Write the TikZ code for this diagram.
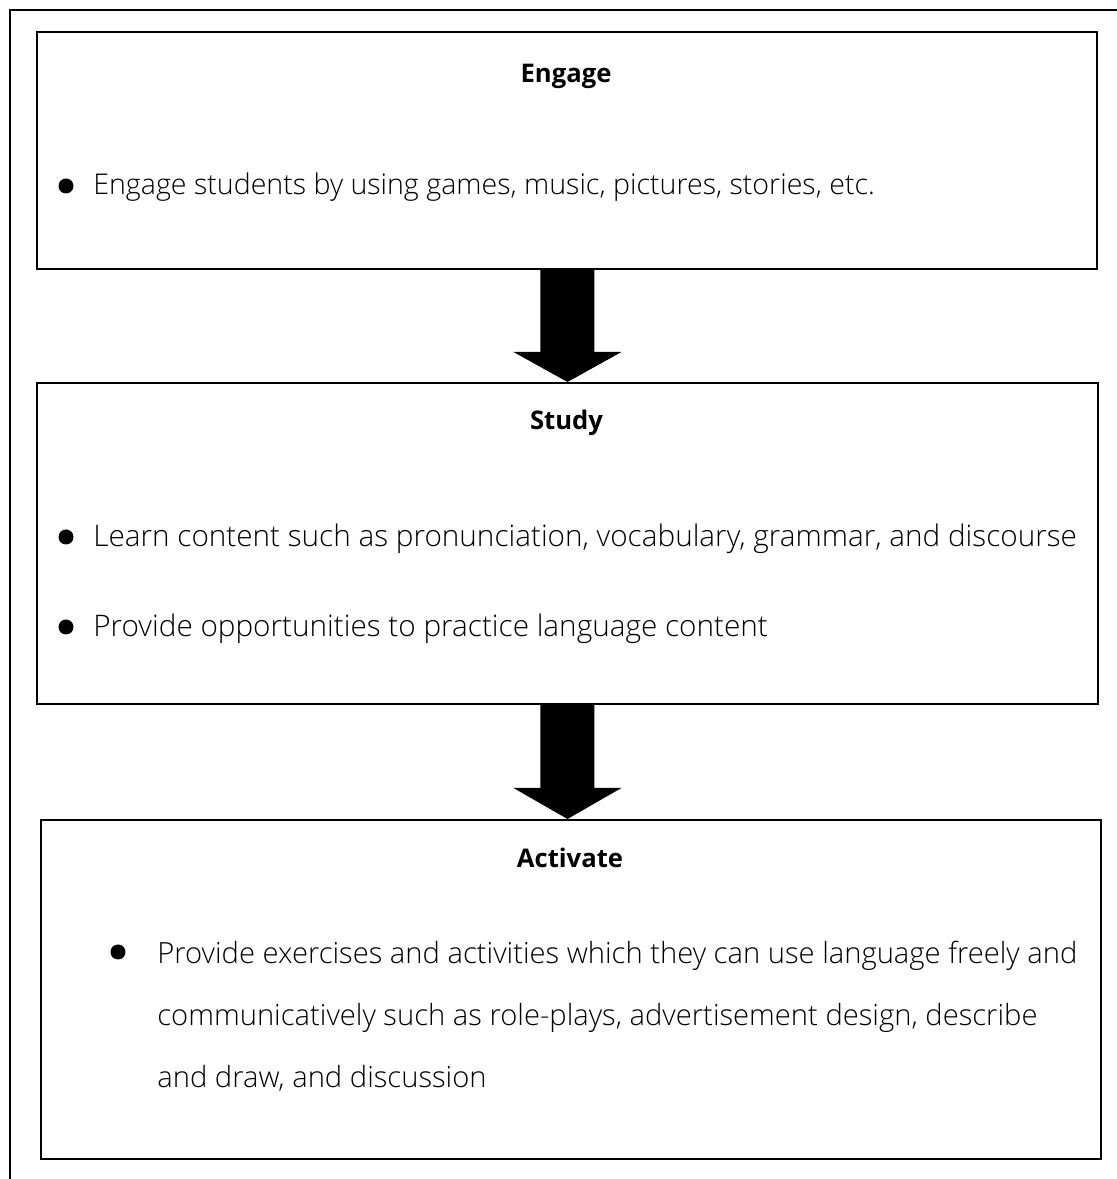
\documentclass[tikz,border=0pt]{standalone}
\usepackage{fontspec}
\setmainfont{Open Sans}[UprightFont=* Light, BoldFont=* Bold]
\usetikzlibrary{calc}
\tikzset{
  box/.style={draw, line width=1.1pt, anchor=north west, inner sep=0pt},
  title/.style={anchor=base, font=\fontsize{14.6}{18}\selectfont\bfseries},
  body/.style={anchor=base west, inner sep=0pt, font=\fontsize{16.25}{18}\selectfont},
  dot/.style={circle, fill=black, inner sep=0pt, minimum size=0.30cm}
}
\begin{document}
\begin{tikzpicture}
    \useasboundingbox (0,0) rectangle (22.34,23.58);
    % outer page frame
    \draw [line width=1.6pt] (0.2,0) -- (0.2,23.38) -- (22.34,23.38);
    % the three stages
    \node [box, minimum width=21.2cm, minimum height=4.74cm] (engage) at (0.72,22.96) {};
    \node [box, minimum width=21.22cm, minimum height=6.42cm] (study) at (0.72,15.94) {};
    \node [box, minimum width=21.2cm, minimum height=6.78cm] (activate) at (0.80,7.20) {};
    % block arrows
    \coordinate (tailone) at (study.north |- engage.south);
    \coordinate (tipone) at (study.north);
    \coordinate (tailtwo) at (study.south);
    \coordinate (tiptwo) at (study.south |- activate.north);
    \fill ($(tailone)+(-0.54,0)$) -- ($(tipone)+(-0.54,0.6)$) -- ($(tipone)+(-1.08,0.6)$) -- (tipone) -- ($(tipone)+(1.08,0.6)$) -- ($(tipone)+(0.54,0.6)$) -- ($(tailone)+(0.54,0)$) -- cycle;
    \fill ($(tailtwo)+(-0.54,0)$) -- ($(tiptwo)+(-0.54,0.62)$) -- ($(tiptwo)+(-1.08,0.62)$) -- (tiptwo) -- ($(tiptwo)+(1.08,0.62)$) -- ($(tiptwo)+(0.54,0.62)$) -- ($(tailtwo)+(0.54,0)$) -- cycle;
    % Engage
    \node [title] (engagetitle) at (11.32,21.92) {Engage};
    \node [dot] (engagedot) at (1.32,19.86) {};
    \node [body] (engagetext) at (1.86,19.68) {Engage students by using games, music, pictures, stories, etc.};
    % Study
    \node [title] (studytitle) at (11.33,14.98) {Study};
    \node [dot] (studydota) at (1.32,12.84) {};
    \node [body, font=\fontsize{16.9}{18}\selectfont] (studytexta) at (1.86,12.64) {Learn content such as pronunciation, vocabulary, grammar, and discourse};
    \node [dot] (studydotb) at (1.32,11.04) {};
    \node [body, font=\fontsize{16.9}{18}\selectfont] (studytextb) at (1.86,10.84) {Provide opportunities to practice language content};
    % Activate
    \node [title] (activatetitle) at (11.40,6.22) {Activate};
    \node [dot] (activatedot) at (2.36,4.54) {};
    \node [body, font=\fontsize{16.6}{18}\selectfont] (activatetexta) at (3.14,4.30) {Provide exercises and activities which they can use language freely and};
    \node [body, font=\fontsize{16.6}{18}\selectfont] (activatetextb) at (3.14,3.06) {communicatively such as role-plays, advertisement design, describe};
    \node [body, font=\fontsize{16.6}{18}\selectfont] (activatetextc) at (3.14,1.82) {and draw, and discussion};
\end{tikzpicture}
\end{document}
